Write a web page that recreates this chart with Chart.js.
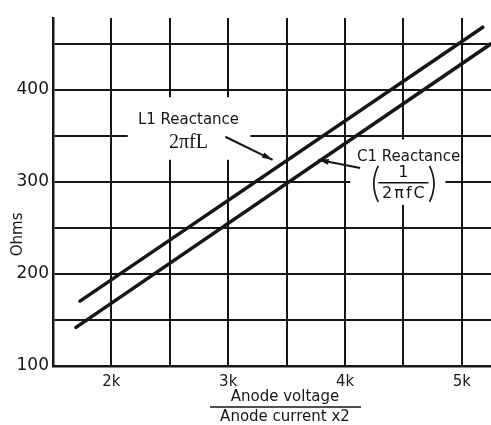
<!DOCTYPE html>
<html>
<head>
<meta charset="utf-8">
<script src="https://cdn.jsdelivr.net/npm/chart.js@4"></script>
<style>
  html, body { margin: 0; padding: 0; background: #fff; }
  #wrap { width: 491px; height: 425px; }
</style>
</head>
<body>
<div id="wrap"><canvas id="chart" width="491" height="425"></canvas></div>
<script>
// Anode load (V / 2I) in volts against reactance in ohms
const l1Volts = [1731, 5180];
const l1Ohms = [170.5, 468];
const c1Volts = [1697, 5250];
const c1Ohms = [142, 450];

const xTicks = [1500, 2000, 2500, 3000, 3500, 4000, 4500, 5000];
const yTicks = [100, 150, 200, 250, 300, 350, 400, 450];
const xLabels = { 2000: '2k', 3000: '3k', 4000: '4k', 5000: '5k' };
const yLabels = { 100: '100', 200: '200', 300: '300', 400: '400' };

const INK = '#161616';
const SANS = '"DejaVu Sans", sans-serif';

const toPoints = (xs, ys) => xs.map((x, i) => ({ x, y: ys[i] }));

// label boxes, arrows and text anchors, all in axis units
const notes = {
    l1Box: [2140, 3190, 392, 324],
    c1Box: [4045, 4860, 346, 275],
    l1Arrow: [2975, 349, 3380, 324],
    c1Arrow: [4130, 315, 3770, 324]
};

function px(chart, x, y) {
    return [chart.scales.x.getPixelForValue(x), chart.scales.y.getPixelForValue(y)];
}

function arrow(ctx, x1, y1, x2, y2) {
    const ang = Math.atan2(y2 - y1, x2 - x1);
    ctx.beginPath();
    ctx.moveTo(x1, y1);
    ctx.lineTo(x2, y2);
    ctx.stroke();
    ctx.beginPath();
    ctx.moveTo(x2, y2);
    ctx.lineTo(x2 - 11 * Math.cos(ang - 0.27), y2 - 11 * Math.sin(ang - 0.27));
    ctx.lineTo(x2 - 11 * Math.cos(ang + 0.27), y2 - 11 * Math.sin(ang + 0.27));
    ctx.closePath();
    ctx.fill();
}

// thin tall bracket, dir = -1 opens right, +1 opens left
function paren(ctx, x, y, h, dir) {
    ctx.beginPath();
    ctx.moveTo(x + 4 * -dir, y - h / 2);
    ctx.quadraticCurveTo(x - 5 * -dir, y, x + 4 * -dir, y + h / 2);
    ctx.stroke();
}

const labelsPlugin = {
    id: 'labels',
    beforeDatasetsDraw(chart) {
        const ctx = chart.ctx;
        ctx.save();
        ctx.fillStyle = '#fff';
        [notes.l1Box, notes.c1Box].forEach(([x1, x2, y1, y2]) => {
            const [a, b] = px(chart, x1, y1);
            const [c, d] = px(chart, x2, y2);
            ctx.fillRect(a, b, c - a, d - b);
        });
        ctx.fillStyle = INK;
        ctx.strokeStyle = INK;
        ctx.textAlign = 'center';
        ctx.textBaseline = 'middle';

        let [x, y] = px(chart, 2660, 367);
        ctx.font = '15px ' + SANS;
        ctx.fillText('L1 Reactance', x, y);
        [x, y] = px(chart, 2660, 342);
        ctx.font = '20px "Liberation Serif", serif';
        ctx.fillText('2\u03c0fL', x, y);

        [x, y] = px(chart, 4545, 327);
        ctx.font = '15px ' + SANS;
        ctx.fillText('C1 Reactance', x, y);

        // 1 / 2πfC in brackets
        const [bx1, by] = px(chart, 4285, 299);
        const [bx2] = px(chart, 4715, 299);
        const mid = (bx1 + bx2) / 2;
        ctx.font = '16px ' + SANS;
        ctx.fillText('1', mid, by - 10);
        ctx.letterSpacing = '2px';
        ctx.fillText('2\u03c0fC', mid + 1, by + 11);
        ctx.letterSpacing = '0px';
        ctx.lineWidth = 1.5;
        ctx.beginPath();
        ctx.moveTo(bx1, by);
        ctx.lineTo(bx2, by);
        ctx.stroke();
        ctx.lineWidth = 1.7;
        paren(ctx, bx1 - 4, by + 1, 36, -1);
        paren(ctx, bx2 + 5, by + 1, 36, 1);

        // y axis title, between the 200 and 300 labels
        const [, ty] = px(chart, 0, 243);
        ctx.translate(18, ty);
        ctx.rotate(-Math.PI / 2);
        ctx.font = '15px ' + SANS;
        ctx.fillText('Ohms', 0, 0);
        ctx.restore();
    },
    afterDatasetsDraw(chart) {
        const ctx = chart.ctx;
        ctx.save();
        ctx.strokeStyle = INK;
        ctx.fillStyle = INK;
        ctx.lineWidth = 2;
        [notes.l1Arrow, notes.c1Arrow].forEach(([x1, y1, x2, y2]) => {
            const [a, b] = px(chart, x1, y1);
            const [c, d] = px(chart, x2, y2);
            arrow(ctx, a, b, c, d);
        });

        // x axis title as a fraction
        const area = chart.chartArea;
        const cx = area.left + 232;
        ctx.font = '15px ' + SANS;
        ctx.textAlign = 'center';
        ctx.textBaseline = 'middle';
        ctx.fillText('Anode voltage', cx, 397);
        ctx.fillText('Anode current x2', cx, 417);
        ctx.lineWidth = 1.5;
        ctx.beginPath();
        ctx.moveTo(cx - 75, 407);
        ctx.lineTo(cx + 76, 407);
        ctx.stroke();
        ctx.restore();
    }
};

const lineStyle = {
    showLine: true,
    borderColor: INK,
    borderWidth: 3.5,
    borderCapStyle: 'round',
    pointRadius: 0,
    fill: false
};

new Chart(document.getElementById('chart'), {
    type: 'scatter',
    data: {
        datasets: [
            { label: 'L1 Reactance', data: toPoints(l1Volts, l1Ohms), ...lineStyle },
            { label: 'C1 Reactance', data: toPoints(c1Volts, c1Ohms), ...lineStyle }
        ]
    },
    options: {
        responsive: false,
        animation: false,
        layout: { padding: { top: 18, right: 0, left: 0, bottom: 0 } },
        plugins: {
            legend: { display: false },
            tooltip: { enabled: false }
        },
        scales: {
            x: {
                type: 'linear',
                min: 1500,
                max: 5250,
                afterBuildTicks: (scale) => { scale.ticks = xTicks.map(v => ({ value: v })); },
                afterFit: (scale) => { scale.height = 59; },
                grid: { color: INK, lineWidth: 2, drawTicks: false },
                border: { color: INK, width: 2.5 },
                ticks: {
                    autoSkip: false,
                    maxRotation: 0,
                    padding: 7,
                    color: INK,
                    font: { family: SANS, size: 15 },
                    callback: (v) => xLabels[v] || ''
                }
            },
            y: {
                type: 'linear',
                min: 100,
                max: 478,
                afterBuildTicks: (scale) => { scale.ticks = yTicks.map(v => ({ value: v })); },
                afterFit: (scale) => { scale.width = 53; },
                grid: { color: INK, lineWidth: 2, drawTicks: false },
                border: { color: INK, width: 2.5 },
                ticks: {
                    autoSkip: false,
                    padding: 4,
                    color: INK,
                    font: { family: SANS, size: 17 },
                    callback: (v) => yLabels[v] || ''
                }
            }
        }
    },
    plugins: [labelsPlugin]
});
</script>
</body>
</html>
